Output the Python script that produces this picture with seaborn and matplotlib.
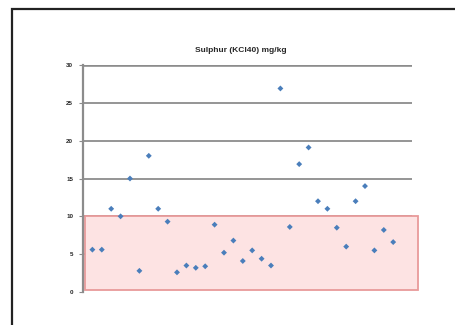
import matplotlib
matplotlib.use("Agg")
import matplotlib.pyplot as plt
from matplotlib.patches import Rectangle
import seaborn as sns
import pandas as pd

# Sample sequence and measured sulphur (KCl40), mg/kg
sample = list(range(1, 34))
sulphur = [5.6, 5.6, 11.0, 10.0, 15.0, 2.8, 18.0, 11.0, 9.3, 2.6, 3.5,
           3.2, 3.4, 8.9, 5.2, 6.8, 4.1, 5.5, 4.4, 3.5, 26.9, 8.6,
           16.9, 19.1, 12.0, 11.0, 8.5, 6.0, 12.0, 14.0, 5.5, 8.2, 6.6]
y_ticks = [0, 5, 10, 15, 20, 25, 30]
low_band = (0, 10)
title = "Sulphur (KCl40) mg/kg"

df = pd.DataFrame({"sample": sample, "sulphur": sulphur})

sns.set_style("white")
plt.rcParams["font.family"] = ["Liberation Sans", "DejaVu Sans"]

fig = plt.figure(figsize=(4.56, 3.25), dpi=100)
ax = fig.add_axes([0.182, 0.1015, 0.7215, 0.6985])

# outer chart frame
fig.patches.append(Rectangle((12 / 456, -0.1), 1.2, 1 - 9 / 325 + 0.1,
                             transform=fig.transFigure, fill=False,
                             edgecolor="#222222", linewidth=1.6))

ax.set_xlim(0, 35)
ax.set_ylim(0, 30)

# horizontal gridlines
for t in y_ticks[1:]:
    ax.axhline(t, color="#8c8c8c", linewidth=2.6 if t == 30 else 1.3, zorder=1)

# shaded low range
ax.add_patch(Rectangle((0.2, low_band[0] + 0.2), 35.4, low_band[1] - low_band[0] - 0.2,
                       facecolor="#fde3e3", edgecolor="#e89a9a", linewidth=1.3,
                       zorder=2, clip_on=False))

sns.scatterplot(data=df, x="sample", y="sulphur", ax=ax, marker="D", s=9,
                color="#4a7ebb", edgecolor="none", zorder=3, legend=False)

for side in ["top", "right", "bottom"]:
    ax.spines[side].set_visible(False)
ax.spines["left"].set_color("#8c8c8c")
ax.spines["left"].set_linewidth(1.6)

ax.set_xticks([])
ax.set_yticks(y_ticks)
ax.set_yticklabels([str(t) for t in y_ticks], fontsize=4.5, fontweight="bold")
ax.tick_params(axis="y", length=3, width=0.8, color="#8c8c8c", pad=4, left=True)
ax.set_xlabel("")
ax.set_ylabel("")
ax.set_title(title, fontsize=6, fontweight="bold", pad=9, x=0.48)

fig.savefig("out.png", dpi=100)
